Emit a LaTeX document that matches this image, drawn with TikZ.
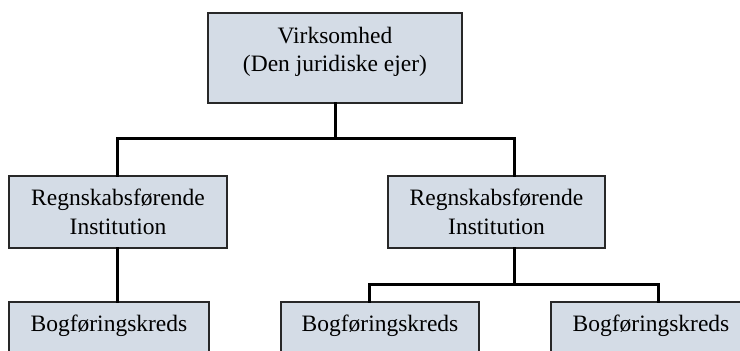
\documentclass[tikz,border=0pt]{standalone}
\usepackage{fontspec}
\setmainfont{Liberation Serif}
\definecolor{boxfill}{RGB}{212,220,230}
\definecolor{boxline}{RGB}{40,40,40}
\begin{document}
\begin{tikzpicture}[x=1pt,y=1pt]
        \tikzstyle{orgbox}=[draw=boxline,line width=1.6pt,fill=boxfill,inner sep=0pt,align=center,font=\fontsize{23.5}{28.5}\selectfont]
        \tikzstyle{conn}=[line width=3pt,line cap=rect]

        \useasboundingbox (0,0) rectangle (740,351);
        \clip (0,0) rectangle (740,351);

        \node (virk)[orgbox,minimum width=254pt,minimum height=90pt,text depth=17pt] at (335,293) {Virksomhed\\(Den juridiske ejer)};

        \node (regnL)[orgbox,minimum width=218pt,minimum height=72pt] at (118,139) {Regnskabsførende\\Institution};
        \node (regnR)[orgbox,minimum width=217pt,minimum height=72pt] at (496.5,139) {Regnskabsførende\\Institution};

        \node (bogL)[orgbox,minimum width=200pt,minimum height=72pt,text depth=30pt] at (109,13) {Bogføringskreds};
        \node (bogM)[orgbox,minimum width=198pt,minimum height=72pt,text depth=30pt] at (380,13) {Bogføringskreds};
        \node (bogR)[orgbox,minimum width=200pt,minimum height=72pt,text depth=30pt] at (651,13) {Bogføringskreds};

        \draw[conn] (virk.south) -- ++(0,-35) coordinate (busTop);
        \draw[conn] ([xshift=-1pt]regnL.north) |- (busTop) -| ([xshift=18pt]regnR.north);
        \draw[conn] ([xshift=-1pt]regnL.south) -- ([xshift=8pt]bogL.north);
        \draw[conn] ([xshift=18pt]regnR.south) -- ++(0,-36) coordinate (busLow);
        \draw[conn] ([xshift=-11pt]bogM.north) |- (busLow) -| ([xshift=7pt]bogR.north);
    \end{tikzpicture}
\end{document}
